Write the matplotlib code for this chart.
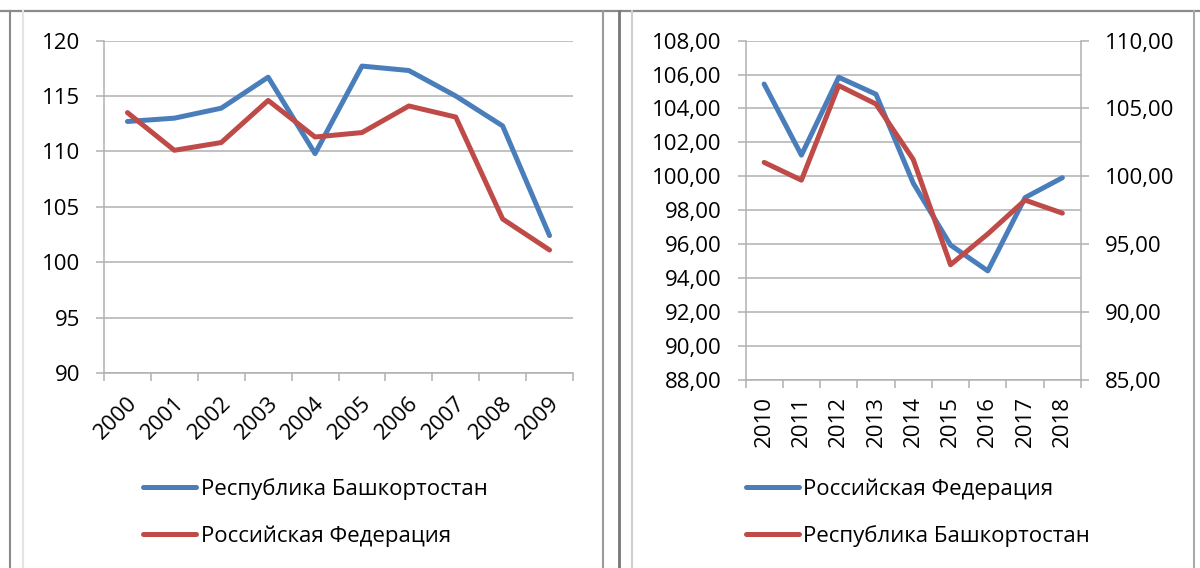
import matplotlib
matplotlib.use("Agg")
import matplotlib.pyplot as plt
from matplotlib.lines import Line2D
from matplotlib.ticker import FixedLocator, FuncFormatter
import matplotlib.transforms as mtransforms

plt.rcParams['font.family'] = ['Open Sans', 'DejaVu Sans']

# ---- data ----
years1 = ['2000', '2001', '2002', '2003', '2004', '2005', '2006', '2007', '2008', '2009']
bash1 = [112.7, 113.0, 113.9, 116.7, 109.8, 117.7, 117.3, 115.0, 112.3, 102.4]
rf1 = [113.5, 110.1, 110.8, 114.6, 111.3, 111.7, 114.1, 113.1, 103.9, 101.1]
label_bash = 'Республика Башкортостан'
label_rf = 'Российская Федерация'

years2 = ['2010', '2011', '2012', '2013', '2014', '2015', '2016', '2017', '2018']
rf2 = [105.44, 101.25, 105.84, 104.84, 99.6, 95.95, 94.43, 98.75, 99.92]      # left axis
bash2 = [101.03, 99.72, 106.69, 105.33, 101.24, 93.49, 95.76, 98.25, 97.29]  # right axis

yticks1 = [90, 95, 100, 105, 110, 115, 120]
yticks2_left = [88, 90, 92, 94, 96, 98, 100, 102, 104, 106, 108]
yticks2_right = [85, 90, 95, 100, 105, 110]

BLUE = '#4A7EBB'
RED = '#BE4B48'
GRID = '#B0B0B0'
FS = 16
LW = 3.6

W, H = 1200, 568
fig = plt.figure(figsize=(W / 100, H / 100), dpi=100)

def fx(px):
    return px / W

def fy(py):
    return 1 - py / H

# ---- frame lines (page borders) ----
def vline(x, color, lw=1.5, y0=11):
    fig.add_artist(Line2D([fx(x), fx(x)], [fy(y0), 0], color=color, lw=lw, transform=fig.transFigure))

fig.add_artist(Line2D([0, 1], [fy(11), fy(11)], color='#8a8a8a', lw=1.6, transform=fig.transFigure))
vline(10, '#8a8a8a')
vline(23, '#e4e4e4')
vline(603, '#9a9a9a')
vline(619, '#777777', lw=2)
vline(632, '#cfcfcf')
vline(1194, '#aaaaaa')


def style_axes(ax, n, labels):
    ax.set_xlim(-0.5, n - 0.5)
    ax.xaxis.set_major_locator(FixedLocator(list(range(n))))
    ax.xaxis.set_minor_locator(FixedLocator([i - 0.5 for i in range(n + 1)]))
    ax.set_xticklabels(labels)
    ax.tick_params(axis='x', which='major', length=0)
    ax.tick_params(axis='x', which='minor', length=6, width=1.1, color=GRID, direction='out')
    ax.tick_params(axis='y', which='major', length=6, width=1.1, color=GRID, direction='out',
                   labelsize=FS, pad=11)
    ax.tick_params(axis='x', labelsize=FS)
    ax.grid(axis='y', color=GRID, lw=1.1)
    ax.set_axisbelow(True)
    for s in ['top', 'right']:
        ax.spines[s].set_visible(False)
    for s in ['left', 'bottom']:
        ax.spines[s].set_color(GRID)
        ax.spines[s].set_linewidth(1.1)


LEG = dict(loc='center left', frameon=False, fontsize=FS, handlelength=2.4,
           handletextpad=0.2, borderpad=0, borderaxespad=0, labelspacing=1.13)

# ---- left chart ----
ax1 = fig.add_axes([fx(104), fy(373), fx(573 - 104), (373 - 40.6) / H])
x1 = list(range(len(years1)))
ax1.plot(x1, bash1, color=BLUE, lw=LW, solid_capstyle='round', label=label_bash)
ax1.plot(x1, rf1, color=RED, lw=LW, solid_capstyle='round', label=label_rf)
style_axes(ax1, len(years1), years1)
ax1.set_ylim(90, 120)
ax1.set_yticks(yticks1)
ax1.set_yticklabels([str(v) for v in yticks1])
ax1.tick_params(axis='x', which='major', pad=14)
offs = mtransforms.ScaledTranslation(-1 / 100, 0, fig.dpi_scale_trans)
for lab in ax1.get_xticklabels():
    lab.set_rotation(45)
    lab.set_ha('right')
    lab.set_va('top')
    lab.set_rotation_mode('anchor')
    lab.set_transform(lab.get_transform() + offs)

fig.legend(handles=ax1.get_lines(), bbox_to_anchor=(fx(143), fy(512.5)),
           bbox_transform=fig.transFigure, **LEG)

# ---- right chart ----
ax2 = fig.add_axes([fx(745.5), fy(380), fx(1081 - 745.5), (380 - 40.6) / H])
x2 = list(range(len(years2)))
l_rf, = ax2.plot(x2, rf2, color=BLUE, lw=LW, solid_capstyle='round', label=label_rf)
style_axes(ax2, len(years2), years2)
ax2.set_ylim(88, 108)
ax2.set_yticks(yticks2_left)
ax2.yaxis.set_major_formatter(FuncFormatter(lambda v, p: f'{v:.2f}'.replace('.', ',')))
ax2.tick_params(axis='x', which='major', pad=11.5)
for lab in ax2.get_xticklabels():
    lab.set_rotation(90)
    lab.set_ha('center')
    lab.set_va('top')

ax3 = ax2.twinx()
l_ba, = ax3.plot(x2, bash2, color=RED, lw=LW, solid_capstyle='round', label=label_bash)
ax3.set_ylim(85, 110)
ax3.set_yticks(yticks2_right)
ax3.yaxis.set_major_formatter(FuncFormatter(lambda v, p: f'{v:.2f}'.replace('.', ',')))
ax3.tick_params(axis='y', length=6, width=1.1, color=GRID, direction='out', labelsize=FS, pad=11)
for s in ['top', 'left', 'bottom']:
    ax3.spines[s].set_visible(False)
ax3.spines['right'].set_color(GRID)
ax3.spines['right'].set_linewidth(1.1)

fig.legend(handles=[l_rf, l_ba], bbox_to_anchor=(fx(745.5), fy(512.5)),
           bbox_transform=fig.transFigure, **LEG)

fig.savefig('out.png', dpi=100)
